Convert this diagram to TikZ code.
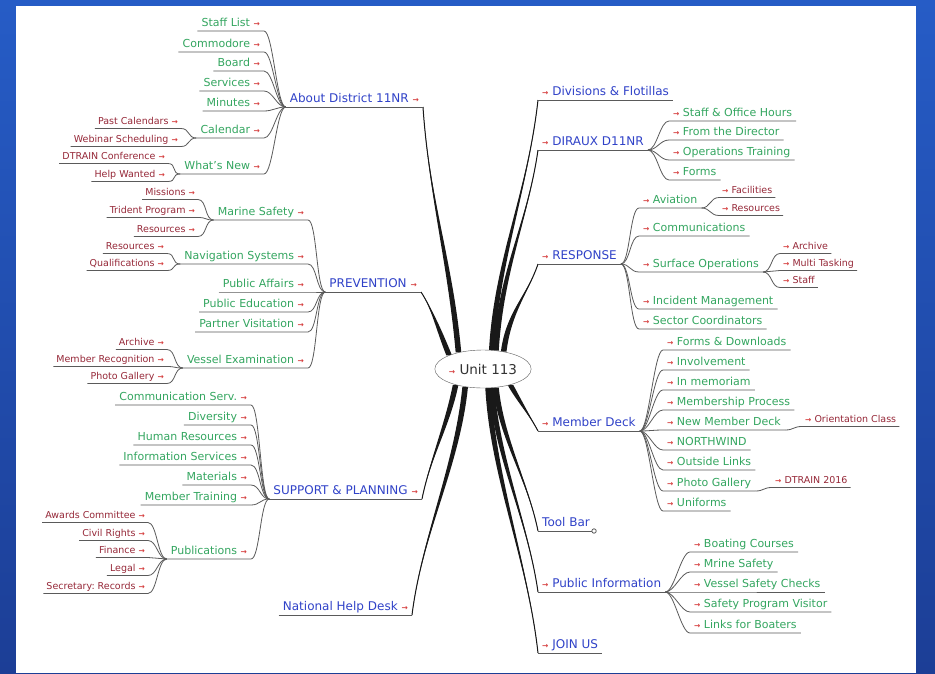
\documentclass[tikz,border=0pt]{standalone}
\usepackage{fontspec}
\setmainfont{DejaVu Sans}
\usetikzlibrary{calc,shapes.geometric,backgrounds}

\definecolor{mapblue}{RGB}{48,66,200}
\definecolor{mapgreen}{RGB}{52,166,96}
\definecolor{mapred}{RGB}{150,40,56}
\definecolor{arrowred}{RGB}{214,64,64}
\definecolor{linegray}{RGB}{90,90,90}
\definecolor{bgtop}{RGB}{38,92,198}
\definecolor{bgbot}{RGB}{28,62,150}

\frenchspacing

% small red arrow in front of / behind a topic
\newcommand\ra{{\color{arrowred}\fontsize{7.5}{8}\bfseries →}}

% tapered branch from the centre to a main topic
\newcommand\trunk[4]{%
  \fill[black!90] ($(#1)+(2.8,0)$) .. controls +(#2) and +(#3) .. (#4)
    .. controls +(#3) and +(#2) .. ($(#1)+(-2.8,0)$) -- cycle;
  \draw[black!90, line width=1pt] (#1) .. controls +(#2) and +(#3) .. (#4);
}

\begin{document}
\begin{tikzpicture}[
      x=1pt, y=-1pt,
      main/.style={font=\fontsize{12}{14}\selectfont, text=mapblue,
                   inner xsep=4pt, inner ysep=1.5pt, text depth=0.25em},
      sub/.style={font=\fontsize{11}{13}\selectfont, text=mapgreen,
                  inner xsep=4pt, inner ysep=1.5pt, text depth=0.25em},
      leaf/.style={font=\fontsize{9.5}{11}\selectfont, text=mapred,
                   inner xsep=3pt, inner ysep=1.5pt, text depth=0.25em},
      centre/.style={ellipse, draw=linegray, fill=white, inner sep=0pt,
                     minimum width=88pt, minimum height=38pt,
                     text=black!80, font=\fontsize{13.5}{16}\selectfont},
      twig/.style={draw=linegray, line width=0.8pt},
      lt/.style={anchor=south east},
      rt/.style={anchor=south west}
    ]
    \useasboundingbox (0,0) rectangle (935,673);

    % Centre
    \node[centre] (unit) at (483,369) {\ra\ Unit 113};

    % Main topics, left
    \node[main, lt] (about) at (423,107) {About District 11NR \ra};
    \node[main, lt] (prev) at (421,292) {PREVENTION \ra};
    \node[main, lt] (supp) at (422,499) {SUPPORT \& PLANNING \ra};
    \node[main, lt] (help) at (412,615) {National Help Desk \ra};

    % Main topics, right
    \node[main, rt] (divs) at (538,100) {\ra\ Divisions \& Flotillas};
    \node[main, rt] (diraux) at (538,150) {\ra\ DIRAUX D11NR};
    \node[main, rt] (resp) at (538,264) {\ra\ RESPONSE};
    \node[main, rt] (deck) at (538,431) {\ra\ Member Deck};
    \node[main, rt] (tool) at (538,531) {Tool Bar};
    \node[main, rt] (pubinfo) at (538,592) {\ra\ Public Information};
    \node[main, rt] (join) at (538,653) {\ra\ JOIN US};

    % About District 11NR
    \node[sub, lt] (staff) at (264,31) {Staff List \ra};
    \node[sub, lt] (commodore) at (264,52) {Commodore \ra};
    \node[sub, lt] (board) at (264,71) {Board \ra};
    \node[sub, lt] (services) at (264,91) {Services \ra};
    \node[sub, lt] (minutes) at (264,111) {Minutes \ra};
    \node[sub, lt] (calendar) at (264,138) {Calendar \ra};
    \node[sub, lt] (whatsnew) at (264,174) {What's New \ra};
    \node[leaf, lt] (pastcal) at (181,128.5) {Past Calendars \ra};
    \node[leaf, lt] (webinar) at (181,146.5) {Webinar Scheduling \ra};
    \node[leaf, lt] (dtrainconf) at (168,163.5) {DTRAIN Conference \ra};
    \node[leaf, lt] (helpwanted) at (168,181.5) {Help Wanted \ra};

    % PREVENTION
    \node[sub, lt] (marine) at (308,220) {Marine Safety \ra};
    \node[sub, lt] (navsys) at (308,264) {Navigation Systems \ra};
    \node[sub, lt] (affairs) at (308,292) {Public Affairs \ra};
    \node[sub, lt] (education) at (308,312) {Public Education \ra};
    \node[sub, lt] (partner) at (308,332) {Partner Visitation \ra};
    \node[sub, lt] (vessel) at (308,368) {Vessel Examination \ra};
    \node[leaf, lt] (missions) at (198,199.5) {Missions \ra};
    \node[leaf, lt] (trident) at (198,217.5) {Trident Program \ra};
    \node[leaf, lt] (msres) at (198,236.5) {Resources \ra};
    \node[leaf, lt] (navres) at (167,253.5) {Resources \ra};
    \node[leaf, lt] (quals) at (167,270.5) {Qualifications \ra};
    \node[leaf, lt] (vearchive) at (167,349.5) {Archive \ra};
    \node[leaf, lt] (recog) at (167,366.5) {Member Recognition \ra};
    \node[leaf, lt] (vephoto) at (167,383.5) {Photo Gallery \ra};

    % SUPPORT & PLANNING
    \node[sub, lt] (commserv) at (251,405) {Communication Serv. \ra};
    \node[sub, lt] (diversity) at (251,425) {Diversity \ra};
    \node[sub, lt] (human) at (251,445) {Human Resources \ra};
    \node[sub, lt] (infoserv) at (251,465) {Information Services \ra};
    \node[sub, lt] (materials) at (251,485) {Materials \ra};
    \node[sub, lt] (training) at (251,505) {Member Training \ra};
    \node[sub, lt] (pubs) at (251,559) {Publications \ra};
    \node[leaf, lt] (awards) at (148,522.5) {Awards Committee \ra};
    \node[leaf, lt] (civil) at (148,540.5) {Civil Rights \ra};
    \node[leaf, lt] (finance) at (148,557.5) {Finance \ra};
    \node[leaf, lt] (legal) at (148,575.5) {Legal \ra};
    \node[leaf, lt] (secretary) at (148,593.5) {Secretary: Records \ra};

    % DIRAUX D11NR
    \node[sub, rt] (hours) at (669,121) {\ra\ Staff \& Office Hours};
    \node[sub, rt] (director) at (669,140) {\ra\ From the Director};
    \node[sub, rt] (optrain) at (669,160) {\ra\ Operations Training};
    \node[sub, rt] (forms) at (669,180) {\ra\ Forms};

    % RESPONSE
    \node[sub, rt] (aviation) at (639,208) {\ra\ Aviation};
    \node[sub, rt] (comms) at (639,236) {\ra\ Communications};
    \node[sub, rt] (surface) at (639,272) {\ra\ Surface Operations};
    \node[sub, rt] (incident) at (639,309) {\ra\ Incident Management};
    \node[sub, rt] (sector) at (639,329) {\ra\ Sector Coordinators};
    \node[leaf, rt] (facilities) at (719,197.5) {\ra\ Facilities};
    \node[leaf, rt] (avres) at (719,215.5) {\ra\ Resources};
    \node[leaf, rt] (sfarchive) at (780,253.5) {\ra\ Archive};
    \node[leaf, rt] (multi) at (780,270.5) {\ra\ Multi Tasking};
    \node[leaf, rt] (sfstaff) at (780,287.5) {\ra\ Staff};

    % Member Deck
    \node[sub, rt] (downloads) at (663,350) {\ra\ Forms \& Downloads};
    \node[sub, rt] (involve) at (663,370) {\ra\ Involvement};
    \node[sub, rt] (memoriam) at (663,390) {\ra\ In memoriam};
    \node[sub, rt] (process) at (663,410) {\ra\ Membership Process};
    \node[sub, rt] (newdeck) at (663,430) {\ra\ New Member Deck};
    \node[sub, rt] (northwind) at (663,450) {\ra\ NORTHWIND};
    \node[sub, rt] (outside) at (663,470) {\ra\ Outside Links};
    \node[sub, rt] (mdphoto) at (663,491) {\ra\ Photo Gallery};
    \node[sub, rt] (uniforms) at (663,511) {\ra\ Uniforms};
    \node[leaf, rt] (orient) at (802,426.5) {\ra\ Orientation Class};
    \node[leaf, rt] (dtrain) at (772,487.5) {\ra\ DTRAIN 2016};

    % Public Information
    \node[sub, rt] (courses) at (690,552) {\ra\ Boating Courses};
    \node[sub, rt] (mrine) at (690,572) {\ra\ Mrine Safety};
    \node[sub, rt] (checks) at (690,592) {\ra\ Vessel Safety Checks};
    \node[sub, rt] (visitor) at (690,612) {\ra\ Safety Program Visitor};
    \node[sub, rt] (links) at (690,633) {\ra\ Links for Boaters};

    % Underlines of the main topics
    \foreach \m in {about,prev,supp,help,divs,diraux,resp,deck,tool,pubinfo,join}
      \draw[twig] (\m.south west) -- (\m.south east);
    \draw[twig, fill=white] (tool.south east) circle (2.2pt);

    % Left twigs: child underline, then curve into its parent
    \foreach \c/\p in {staff/about,commodore/about,board/about,services/about,
        minutes/about,calendar/about,whatsnew/about,
        pastcal/calendar,webinar/calendar,dtrainconf/whatsnew,helpwanted/whatsnew,
        marine/prev,navsys/prev,affairs/prev,education/prev,partner/prev,vessel/prev,
        missions/marine,trident/marine,msres/marine,navres/navsys,quals/navsys,
        vearchive/vessel,recog/vessel,vephoto/vessel,
        commserv/supp,diversity/supp,human/supp,infoserv/supp,materials/supp,
        training/supp,pubs/supp,
        awards/pubs,civil/pubs,finance/pubs,legal/pubs,secretary/pubs}
      \draw[twig] (\c.south west) -- (\c.south east)
        .. controls +(9,0) and +(-9,0) .. (\p.south west);

    % Right twigs: curve out of the parent, then child underline
    \foreach \p/\c in {diraux/hours,diraux/director,diraux/optrain,diraux/forms,
        resp/aviation,resp/comms,resp/surface,resp/incident,resp/sector,
        aviation/facilities,aviation/avres,
        surface/sfarchive,surface/multi,surface/sfstaff,
        deck/downloads,deck/involve,deck/memoriam,deck/process,deck/newdeck,
        deck/northwind,deck/outside,deck/mdphoto,deck/uniforms,
        newdeck/orient,mdphoto/dtrain,
        pubinfo/courses,pubinfo/mrine,pubinfo/checks,pubinfo/visitor,pubinfo/links}
      \draw[twig] (\p.south east) .. controls +(9,0) and +(-9,0) .. (\c.south west)
        -- (\c.south east);

    \begin{pgfonlayer}{background}
      % Blue frame and white sheet
      \shade[top color=bgtop, bottom color=bgbot] (0,0) rectangle (935,673);
      \fill[white] (16,6) rectangle (916,673);

      % Branches from the centre
      \trunk{unit.146}{-8,-90}{6,90}{about.south east}
      \trunk{unit.158}{-10,-25}{10,15}{prev.south east}
      \trunk{unit.-150}{-8,40}{8,-40}{supp.south east}
      \trunk{unit.-135}{-8,80}{10,-80}{help.south east}
      \trunk{unit.65}{5,-90}{-10,90}{divs.south west}
      \trunk{unit.55}{5,-80}{-10,70}{diraux.south west}
      \trunk{unit.40}{5,-40}{-10,30}{resp.south west}
      \trunk{unit.-30}{8,15}{-8,-15}{deck.south west}
      \trunk{unit.-55}{5,50}{-10,-50}{tool.south west}
      \trunk{unit.-65}{5,70}{-10,-70}{pubinfo.south west}
      \trunk{unit.-75}{5,90}{-10,-90}{join.south west}
    \end{pgfonlayer}

  \end{tikzpicture}
\end{document}
